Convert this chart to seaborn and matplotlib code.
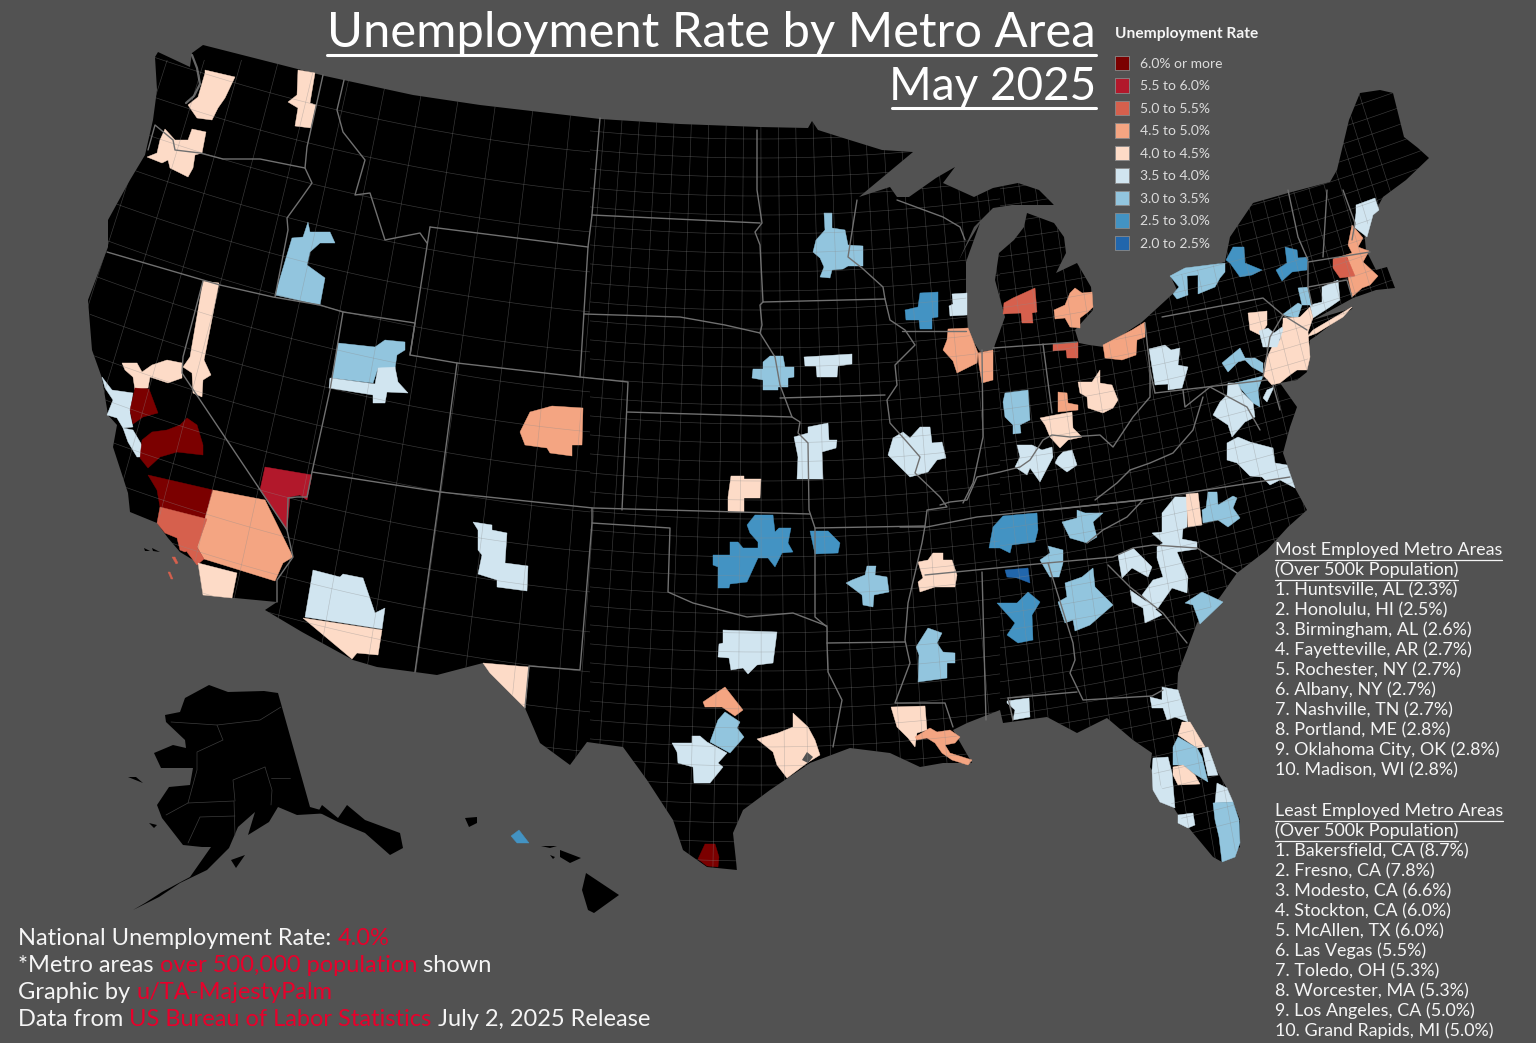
import numpy as np, pandas as pd, matplotlib
matplotlib.use("Agg")
import matplotlib.pyplot as plt
import seaborn as sns
from matplotlib.patches import Polygon

BG = "#525252"
sns.set_theme(style="white", rc={"figure.facecolor": BG, "axes.facecolor": BG})
plt.rcParams["font.family"] = ["Lato", "DejaVu Sans"]

legend_labels = ["6.0% or more","5.5 to 6.0%","5.0 to 5.5%","4.5 to 5.0%","4.0 to 4.5%","3.5 to 4.0%","3.0 to 3.5%","2.5 to 3.0%","2.0 to 2.5%"]
legend_colors = ["#7b0000","#b2182b","#d6604d","#f4a582","#fddbc7","#d1e5f0","#92c5de","#4393c3","#2166ac"]
bin_edges = [2.0,2.5,3.0,3.5,4.0,4.5,5.0,5.5,6.0,20.0]

# Map geometry, in picture coordinates
LAND = [(203,45),(325,76),(413,95),(480,105),(600,119),(680,124),(760,127),(808,128),(812,121),(818,130),(840,137),(882,150),(913,152),(859,197),(890,187),(897,197),(909,197),(936,178),(955,167),(943,183),(974,197),(993,188),(1018,183),(1039,190),(1054,205),(1012,205),(993,208),(974,227),(959,260),(968,243),(980,223),(966,262),(966,293),(968,333),(980,352),(993,350),(1005,317),(995,280),(999,253),(1014,240),(1024,227),(1027,213),(1054,223),(1064,237),(1066,253),(1056,273),(1077,263),(1091,287),(1093,310),(1075,330),(1079,343),(1089,345),(1104,347),(1142,322),(1177,290),(1171,277),(1225,262),(1230,237),(1253,203),(1288,193),(1330,182),(1337,170),(1349,120),(1360,93),(1380,90),(1393,93),(1404,137),(1418,148),(1429,158),(1406,180),(1383,197),(1376,210),(1364,230),(1366,250),(1376,270),(1387,267),(1395,288),(1376,290),(1353,298),(1313,320),(1353,308),(1316,336),(1310,340),(1308,357),(1307,372),(1297,380),(1280,383),(1297,407),(1290,427),(1283,453),(1295,488),(1307,510),(1288,527),(1267,550),(1237,573),(1220,597),(1197,623),(1187,650),(1178,673),(1177,693),(1187,720),(1203,747),(1228,790),(1240,820),(1240,847),(1222,862),(1213,857),(1193,833),(1177,813),(1163,790),(1150,767),(1152,753),(1133,740),(1107,718),(1077,733),(1047,717),(1003,723),(1000,710),(967,723),(953,730),(972,763),(943,763),(920,767),(890,753),(850,748),(810,763),(770,790),(743,810),(733,833),(737,870),(707,867),(683,850),(673,820),(647,780),(623,747),(587,742),(570,765),(540,743),(525,708),(483,663),(437,675),(415,672),(377,667),(353,660),(302,632),(265,610),(277,602),(203,595),(198,563),(180,552),(168,538),(157,523),(130,512),(128,493),(113,447),(117,425),(108,415),(102,378),(92,350),(88,300),(108,247),(108,220),(130,180),(145,155),(153,120),(157,90),(155,57),(158,52),(190,67),(192,53)]
PUGET = [(192,55),(197,68),(200,84),(194,96),(186,103)]
ALASKA = [(209,685),(228,692),(264,691),(278,693),(310,807),(331,813),(297,815),(278,807),(269,822),(248,835),(255,812),(238,827),(229,848),(207,870),(180,883),(159,897),(133,910),(145,903),(162,892),(190,877),(211,847),(202,847),(183,845),(162,818),(157,805),(169,787),(190,785),(193,768),(161,768),(154,753),(173,745),(186,748),(185,740),(166,722),(165,715),(180,712),(185,698)]
ISLANDS = [[(322,805),(338,818),(347,805),(365,820),(400,833),(403,848),(390,855),(365,833),(338,822),(318,812)],[(231,860),(245,855),(236,868)],[(128,777),(143,783),(136,777)],[(149,823),(157,825),(154,828)],[(586,873),(619,895),(594,913),(588,910),(582,890)],[(560,850),(581,858),(570,863),(560,857)],[(541,846),(557,846),(550,848)],[(465,818),(477,817),(477,823),(469,827)],[(550,855),(555,857),(553,859)],[(144,548),(150,551),(145,551)],[(152,548),(160,552),(153,551)]]
STATE_LINES = [
[(323,75),(307,147),(305,168)],[(148,150),(155,125),(173,140),(175,150),(200,153),(223,159),(260,159),(305,168),(312,183),(300,200),(287,218),(288,230),(275,297)],
[(107,252),(220,285),(273,297),(320,305),(343,312),(415,323),(410,355)],[(344,80),(337,110),(343,132),(365,160),(355,195),(370,193),(385,240),(420,233),(427,243)],
[(430,227),(588,247),(580,377)],[(430,227),(410,355),(457,363),(580,377),(628,382),(622,510)],[(600,118),(592,215),(588,247)],
[(343,312),(330,390),(312,472),(440,492),(593,508),(810,514)],[(457,363),(440,492),(415,672)],[(592,508),(592,523),(580,670),(529,666),(525,708)],
[(627,412),(792,417)],[(584,314),(680,317),(725,325),(760,333),(775,357),(780,385),(792,417),(800,422),(798,433),(808,443),(809,510),(815,528),(815,617),(827,627),(827,643),(828,672),(842,700),(833,747)],
[(592,215),(760,223)],[(757,130),(757,190),(762,223),(755,232),(760,245),(763,302),(885,299)],[(763,302),(760,305),(762,325),(760,333)],[(780,398),(885,395)],
[(885,299),(890,320),(905,330),(915,345),(895,365),(897,385),(887,400),(890,423),(907,442),(920,457),(915,473),(940,497),(947,507),(927,510),(925,526),(922,543),(908,603),(905,640),(910,663),(895,703),(945,703),(953,727)],
[(857,200),(848,257),(862,268),(883,287),(885,299)],[(902,331),(966,331)],[(897,200),(943,217),(960,227),(965,240)],
[(982,350),(983,437),(973,483),(963,503)],[(993,348),(1077,342)],[(1043,344),(1052,413)],
[(940,505),(950,502),(967,500),(977,477),(1000,472),(1020,467),(1030,460),(1043,440),(1052,435),(1070,437),(1100,435),(1113,447),(1133,417),(1150,397),(1150,370),(1145,323)],
[(1155,393),(1267,380)],[(1162,317),(1263,298),(1283,315),(1307,330)],[(1283,315),(1270,337),(1263,377)],[(1155,393),(1150,370)],
[(1183,390),(1185,407),(1210,387),(1247,407),(1260,430)],[(1130,470),(1150,463),(1173,453),(1193,430),(1203,397)],[(1130,470),(1117,483),(1095,500)],
[(1050,510),(1140,500),(1290,477)],[(815,528),(925,526)],[(900,527),(927,527),(977,517),(1143,500)],[(1087,543),(1103,530),(1127,517),(1143,500)],
[(925,575),(1047,563),(1113,557),(1133,548),(1153,545),(1197,548),(1237,573)],[(1108,565),(1130,587),(1163,613),(1187,643)],
[(1048,563),(1073,643),(1075,660),(1070,673),(1083,700),(1152,696),(1163,690)],[(1008,698),(1077,692)],[(1008,698),(1013,720)],[(982,572),(986,720)],
[(592,523),(670,528),(668,592),(693,603),(747,617),(793,613),(827,626)],[(827,643),(905,642)],
[(203,281),(183,357),(182,373),(287,530),(293,557),(277,580),(277,602)],[(312,472),(307,497),(297,497),(288,498),(287,530)],
[(1288,190),(1298,237),(1308,260)],[(1327,190),(1323,257)],[(1343,190),(1355,223),(1352,240)],[(1308,262),(1370,252)],[(1308,287),(1347,280),(1352,297)],[(1308,262),(1308,287),(1312,305)],[(1273,385),(1280,410)]]
ALASKA_LINES = [[(171,722),(217,725),(260,720),(281,707)],[(217,725),(223,740),(197,752),(197,770),(188,803),(234,801)],[(166,815),(188,803)],[(234,801),(235,835)],[(235,816),(200,817),(188,843)],[(265,767),(233,780),(235,801)],[(265,767),(272,790),(271,805)],[(290,778),(271,778)]]

metro_names = ["Seattle","Spokane","Portland","Boise","Reno","Sacramento","San Francisco","Modesto-Stockton","San Jose","Fresno","Bakersfield","Las Vegas","Riverside","Los Angeles","Orange Co.","Catalina","San Clemente","San Diego","Phoenix","Tucson","Salt Lake City","Provo-Ogden","Denver","Albuquerque","El Paso","Oklahoma City","Tulsa","Fayetteville AR","Little Rock","Memphis","Jackson","Dallas","Waco-Killeen","Austin","San Antonio","Houston","McAllen","Baton Rouge","New Orleans","Pensacola","Birmingham","Huntsville","Nashville","Chattanooga","Knoxville","Atlanta","Greenville","Charlotte-Greensboro","Columbia-Augusta","Durham","Raleigh","Charleston","Jacksonville","Deltona","Orlando","Palm Bay","Lakeland","Tampa","Port St Lucie","Miami","Cape Coral","Minneapolis","Madison","Milwaukee","Chicago","NW Indiana","Grand Rapids","Detroit","Toledo","Cleveland","Columbus","Dayton","Cincinnati","Indianapolis","Louisville","Lexington","St Louis","Kansas City","Des Moines","Omaha","Wichita","Buffalo-Rochester","Syracuse","Albany","Portland ME","Boston","Worcester","Hartford","Springfield","Poughkeepsie","New York","Long Island","Scranton","Allentown","Harrisburg","Pittsburgh","Baltimore","Washington","Wilmington","Richmond-Virginia Beach","Honolulu"]
metro_rates = [4.2,4.2,4.2,3.2,4.2,4.2,3.8,6.3,3.8,7.8,8.7,5.5,4.8,5.0,5.0,5.0,5.0,4.2,3.7,4.2,3.2,3.7,4.7,3.8,4.2,2.8,2.9,2.7,3.3,4.3,3.3,3.8,4.6,3.3,3.7,4.3,6.0,4.3,4.6,3.7,2.6,2.3,2.7,3.2,3.2,3.3,3.7,3.8,3.8,4.1,3.2,3.3,3.7,4.1,3.3,3.7,4.1,3.7,3.7,3.2,3.7,3.3,2.8,3.8,4.7,4.7,5.0,4.8,5.3,4.7,4.2,4.6,4.2,3.3,3.8,3.7,3.8,3.8,3.6,3.2,4.2,3.3,2.9,2.7,3.6,4.6,5.3,3.8,3.2,3.2,4.2,4.2,4.2,3.7,3.3,3.7,3.2,3.8,3.7,3.6,2.5]
metro_shapes = [
[(205,70),(235,77),(225,98),(218,108),(212,120),(197,118),(188,105),(198,97),(205,73)],
[(298,70),(315,73),(310,103),(316,105),(311,128),(295,126),(298,108),(288,102),(297,95)],
[(165,129),(175,140),(188,140),(192,129),(206,132),(202,153),(195,155),(193,168),(188,177),(170,168),(168,160),(162,163),(147,157),(157,153),(160,140)],
[(308,222),(310,232),(330,232),(335,243),(320,243),(310,252),(307,265),(325,278),(320,305),(275,295),(292,238),(303,237)],
[(203,281),(219,283),(206,350),(204,360),(211,375),(203,380),(202,397),(193,393),(192,373),(183,367),(190,357)],
[(122,363),(137,363),(142,372),(152,365),(167,360),(182,363),(182,378),(168,383),(150,377),(148,388),(135,390),(133,377),(125,370)],
[(102,377),(112,390),(133,393),(130,413),(133,427),(123,428),(117,418),(107,415),(113,400),(105,388)],
[(135,388),(149,389),(158,413),(143,417),(133,424),(130,410)],
[(123,428),(133,430),(143,447),(142,457),(137,457),(128,442)],
[(187,418),(197,425),(203,445),(203,455),(177,452),(160,457),(148,468),(140,458),(142,440),(152,432),(167,430),(180,425)],
[(148,475),(213,490),(207,519),(160,507),(157,490)],
[(265,467),(312,475),(307,500),(300,495),(290,497),(287,530),(260,490)],
[(213,490),(265,500),(293,557),(283,563),(275,581),(204,559),(197,547)],
[(160,507),(207,519),(197,547),(185,552),(180,550),(177,538),(165,533),(157,523)],
[(188,547),(197,547),(204,559),(197,565),(187,552)],
[(172,557),(175,557),(178,563),(176,564)],[(168,572),(170,572),(173,579),(171,579)],
[(198,563),(237,573),(232,598),(203,595)],
[(313,570),(340,577),(343,574),(363,578),(375,613),(385,608),(382,629),(305,617)],
[(303,618),(382,630),(378,655),(357,653),(352,659)],
[(338,343),(375,347),(385,340),(405,342),(405,350),(397,355),(395,368),(378,368),(373,383),(332,378)],
[(330,378),(375,384),(378,368),(395,367),(398,382),(408,393),(387,392),(385,403),(373,403),(373,395),(329,388)],
[(530,412),(552,406),(583,408),(582,445),(572,445),(572,456),(550,453),(547,448),(525,445),(520,432)],
[(473,522),(492,525),(492,530),(507,533),(505,563),(528,566),(527,591),(497,587),(497,580),(478,574),(482,555),(478,550),(478,530)],
[(483,663),(529,667),(525,708),(510,693),(490,673)],
[(713,555),(730,555),(730,542),(738,542),(743,548),(758,548),(758,558),(747,582),(730,584),(729,588),(718,588),(718,567),(713,565)],
[(755,515),(773,515),(775,532),(779,528),(791,528),(788,543),(793,552),(782,553),(775,567),(768,558),(758,558),(758,542),(750,533),(747,525)],
[(810,531),(828,531),(840,543),(838,553),(815,554)],
[(867,566),(876,566),(875,575),(887,577),(889,592),(874,595),(873,607),(863,605),(862,595),(846,583),(852,580),(865,575)],
[(933,553),(943,553),(943,560),(952,560),(957,575),(955,587),(935,587),(920,592),(918,582),(923,578),(918,562),(928,560)],
[(928,628),(942,633),(937,643),(943,652),(955,653),(955,663),(947,663),(947,678),(918,682),(919,655),(916,647)],
[(723,630),(777,632),(773,663),(757,665),(748,674),(743,668),(731,670),(729,658),(718,657),(719,644),(723,643)],
[(725,687),(743,710),(735,716),(722,707),(705,707),(703,702)],
[(725,712),(740,722),(737,728),(744,737),(730,753),(710,742),(718,720)],
[(672,743),(692,743),(692,736),(700,736),(707,742),(727,753),(718,763),(723,767),(710,783),(694,783),(693,767),(678,763),(677,752)],
[(757,739),(778,733),(793,727),(793,713),(808,727),(815,740),(820,755),(807,763),(787,778),(777,765),(773,752)],
[(705,844),(715,844),(719,857),(718,867),(707,866),(698,859)],
[(891,707),(925,706),(927,730),(917,733),(915,747),(908,738),(897,727)],
[(915,737),(930,728),(937,732),(950,730),(960,737),(955,743),(945,745),(950,753),(972,760),(968,765),(952,760),(942,753),(935,743),(927,738),(917,740)],
[(1007,701),(1029,698),(1030,717),(1013,720),(1015,710),(1007,703)],
[(1028,592),(1040,602),(1032,615),(1033,640),(1018,643),(1007,635),(1015,623),(997,603),(1017,603)],
[(1005,570),(1028,568),(1030,583),(1017,578),(1007,577)],
[(1003,516),(1037,513),(1038,530),(1035,542),(1012,545),(1010,553),(1000,548),(989,548),(993,527)],
[(1048,546),(1063,550),(1063,563),(1059,577),(1050,577),(1040,560),(1050,553)],
[(1077,510),(1085,513),(1103,513),(1093,522),(1097,537),(1087,543),(1070,538),(1062,522),(1077,518)],
[(1093,568),(1095,587),(1113,605),(1090,625),(1075,631),(1073,620),(1065,623),(1058,602),(1067,597),(1065,583),(1082,577)],
[(1133,548),(1152,567),(1148,577),(1132,568),(1122,578),(1118,555)],
[(1175,497),(1187,497),(1187,527),(1183,529),(1182,539),(1197,542),(1197,549),(1177,552),(1188,577),(1187,593),(1172,588),(1158,608),(1153,610),(1142,595),(1153,580),(1163,577),(1157,558),(1157,547),(1163,543),(1152,533),(1162,532),(1162,513)],
[(1130,590),(1147,602),(1162,615),(1145,623),(1143,608),(1132,602)],
[(1186,494),(1198,493),(1202,525),(1188,527)],
[(1208,492),(1217,492),(1218,505),(1233,496),(1237,498),(1233,508),(1240,518),(1228,527),(1218,520),(1203,523),(1202,510),(1206,508)],
[(1202,592),(1223,602),(1200,624),(1193,605),(1185,603)],
[(1162,687),(1178,690),(1188,722),(1175,717),(1167,720),(1163,708),(1152,708),(1150,697),(1162,700)],
[(1182,722),(1190,722),(1205,747),(1197,748),(1178,735)],
[(1178,737),(1197,748),(1202,757),(1208,782),(1193,773),(1183,765),(1173,765),(1173,747)],
[(1202,748),(1208,747),(1218,775),(1208,776)],
[(1173,767),(1183,765),(1195,775),(1200,784),(1178,785),(1173,775)],
[(1153,758),(1168,757),(1172,773),(1175,808),(1160,802),(1153,790),(1152,770)],
[(1217,783),(1227,788),(1233,802),(1215,803)],
[(1213,803),(1233,802),(1239,820),(1240,843),(1235,857),(1222,862),(1219,837),(1215,820)],
[(1178,815),(1193,813),(1195,825),(1188,828),(1178,823)],
[(824,213),(832,213),(832,228),(845,230),(848,245),(863,246),(863,266),(848,266),(843,269),(832,270),(830,278),(820,277),(824,267),(820,258),(813,252),(816,240),(825,230)],
[(920,293),(938,292),(938,317),(932,318),(932,329),(920,329),(919,320),(906,320),(905,310),(918,307)],
[(952,294),(967,293),(967,315),(950,316),(949,306),(953,304)],
[(948,329),(968,328),(978,353),(977,363),(957,373),(953,361),(943,350),(947,340)],
[(978,353),(993,350),(993,380),(982,383),(979,365)],
[(1013,298),(1035,288),(1037,312),(1032,313),(1033,323),(1022,323),(1021,313),(1003,314),(1004,303)],
[(1070,293),(1075,288),(1082,293),(1092,292),(1093,307),(1088,312),(1080,318),(1080,328),(1070,327),(1065,318),(1055,319),(1054,310),(1065,305)],
[(1053,344),(1078,342),(1078,358),(1067,358),(1066,350),(1053,351)],
[(1103,345),(1132,330),(1145,322),(1145,337),(1137,340),(1136,355),(1122,360),(1105,358)],
[(1078,382),(1092,382),(1100,370),(1100,383),(1112,385),(1118,400),(1113,408),(1103,413),(1088,408),(1087,397),(1080,393)],
[(1058,392),(1067,393),(1068,403),(1078,405),(1078,410),(1058,412)],
[(1040,418),(1055,415),(1072,412),(1073,428),(1082,437),(1068,440),(1060,448),(1050,437),(1045,425)],
[(1005,393),(1028,390),(1030,420),(1020,425),(1021,433),(1013,434),(1013,425),(1005,417),(1003,402)],
[(1017,445),(1032,445),(1042,450),(1052,447),(1053,457),(1040,482),(1030,468),(1027,475),(1015,467),(1020,457)],
[(1063,452),(1072,450),(1077,465),(1067,472),(1055,463),(1058,457)],
[(893,438),(903,432),(910,438),(920,427),(930,427),(932,443),(942,442),(946,458),(937,460),(928,472),(910,477),(900,467),(888,455)],
[(808,427),(828,423),(829,440),(837,440),(836,448),(822,452),(823,479),(797,479),(798,457),(794,437),(808,433)],
[(804,357),(852,354),(852,364),(838,366),(837,377),(817,377),(816,366),(805,366)],
[(770,356),(783,356),(785,367),(794,367),(794,377),(788,378),(788,387),(778,387),(778,390),(763,390),(763,380),(752,378),(753,369),(763,369),(763,362)],
[(731,476),(744,476),(744,479),(761,479),(760,498),(744,498),(744,512),(728,512),(728,497)],
[(1170,276),(1185,268),(1225,263),(1225,272),(1220,278),(1215,287),(1198,294),(1198,275),(1187,276),(1188,295),(1177,299),(1173,294),(1179,287)],
[(1233,247),(1244,247),(1245,263),(1262,270),(1252,275),(1240,277),(1230,263),(1226,260)],
[(1285,247),(1297,250),(1298,258),(1308,257),(1307,270),(1292,272),(1282,281),(1276,270),(1287,263)],
[(1356,205),(1375,198),(1379,210),(1373,215),(1367,237),(1354,227),(1356,213)],
[(1352,225),(1363,238),(1358,247),(1369,251),(1363,262),(1378,276),(1370,285),(1362,288),(1352,297),(1348,277),(1348,258),(1333,259),(1352,253),(1348,245)],
[(1333,259),(1347,257),(1355,276),(1340,278),(1333,268)],
[(1322,287),(1338,280),(1340,300),(1330,307),(1313,318),(1310,305),(1322,302)],
[(1298,288),(1308,287),(1311,305),(1302,305)],
[(1282,315),(1298,303),(1302,305),(1298,317),(1292,317)],
[(1283,318),(1300,317),(1310,307),(1313,318),(1308,332),(1310,357),(1307,370),(1297,370),(1290,375),(1280,383),(1272,385),(1263,375),(1265,362),(1272,347),(1280,340),(1283,323)],
[(1313,330),(1352,307),(1343,317),(1317,333),(1307,337)],
[(1248,313),(1267,311),(1267,325),(1260,335),(1250,330)],
[(1259,331),(1268,328),(1274,333),(1282,327),(1283,330),(1277,347),(1263,347)],
[(1222,363),(1240,348),(1245,358),(1255,358),(1263,363),(1263,373),(1252,367),(1245,360),(1238,362),(1228,372)],
[(1149,349),(1165,345),(1171,350),(1180,348),(1178,365),(1188,367),(1182,388),(1168,390),(1168,384),(1155,385)],
[(1235,383),(1263,376),(1258,390),(1260,407),(1253,403),(1242,390)],
[(1228,383),(1237,383),(1242,392),(1253,403),(1255,417),(1245,422),(1232,437),(1228,425),(1213,415),(1220,402),(1227,395)],
[(1267,390),(1274,387),(1267,402),(1263,398)],
[(1227,443),(1238,437),(1250,442),(1273,448),(1275,463),(1287,465),(1295,488),(1280,480),(1270,485),(1262,477),(1250,476),(1237,463),(1227,460)],
[(519,830),(529,843),(517,843),(511,836)]]

best_title = "Most Employed Metro Areas"
best_list = ["1. Huntsville, AL (2.3%)","2. Honolulu, HI (2.5%)","3. Birmingham, AL (2.6%)","4. Fayetteville, AR (2.7%)","5. Rochester, NY (2.7%)","6. Albany, NY (2.7%)","7. Nashville, TN (2.7%)","8. Portland, ME (2.8%)","9. Oklahoma City, OK (2.8%)","10. Madison, WI (2.8%)"]
worst_title = "Least Employed Metro Areas"
worst_list = ["1. Bakersfield, CA (8.7%)","2. Fresno, CA (7.8%)","3. Modesto, CA (6.6%)","4. Stockton, CA (6.0%)","5. McAllen, TX (6.0%)","6. Las Vegas (5.5%)","7. Toledo, OH (5.3%)","8. Worcester, MA (5.3%)","9. Los Angeles, CA (5.0%)","10. Grand Rapids, MI (5.0%)"]
sub_title = "(Over 500k Population)"
notes = [[("National Unemployment Rate: ",0),("4.0%",1)],
         [("*Metro areas ",0),("over 500,000 population",1),(" shown",0)],
         [("Graphic by ",0),("u/TA-MajestyPalm",1)],
         [("Data from ",0),("US Bureau of Labor Statistics",1),(" July 2, 2025 Release",0)]]

fig = plt.figure(figsize=(15.36, 10.43), dpi=100, facecolor=BG)
ax = fig.add_axes([0, 0, 1, 1])
ax.set_xlim(0, 1536); ax.set_ylim(1043, 0); ax.axis("off")

land = Polygon(LAND, closed=True, fc="black", ec="none", zorder=1); ax.add_patch(land)
for poly in [ALASKA] + ISLANDS:
    ax.add_patch(Polygon(poly, closed=True, fc="black", ec="none", zorder=1))

# metro areas coloured by binned rate
metros = pd.DataFrame({"name": metro_names, "rate": metro_rates})
metros["bin"] = pd.cut(metros["rate"], bin_edges, right=False, labels=legend_labels[::-1])
palette = dict(zip(legend_labels, sns.color_palette(legend_colors)))
for shape, b in zip(metro_shapes, metros["bin"]):
    c = palette[b]
    ax.add_patch(Polygon(shape, closed=True, fc=c, ec=c, lw=0.3, zorder=2))
a = np.array(PUGET); ax.plot(a[:, 0], a[:, 1], color="#666666", lw=1.6, zorder=2.5)
ax.add_patch(Polygon([(807,752),(813,757),(808,763),(802,760)], closed=True, fc=BG, ec="none", zorder=2.5))

# county mesh: thin decorative lines following the map's projection, clipped to land
ys = np.linspace(60, 880, 30)
def meridian(x0):
    return x0 + (x0 - 760) * 0.00048 * (ys - 300), ys
def parallel(y0, x1, x2):
    xs = np.linspace(x1, x2, 30)
    return xs, y0 - 0.00028 * (xs - 760) ** 2
mesh = dict(color="#8c8c8c", lw=0.45, alpha=0.42, zorder=3, solid_capstyle="butt")
for x1, x2, dx, dy in [(90, 590, 42, 40), (590, 1000, 19, 19), (1000, 1440, 17, 17)]:
    for x0 in np.arange(x1, x2, dx):
        lx, ly = meridian(x0)
        l, = ax.plot(lx, ly, **mesh); l.set_clip_path(land)
    for y0 in np.arange(120, 900, dy):
        lx, ly = parallel(y0, x1, x2)
        l, = ax.plot(lx, ly, **mesh); l.set_clip_path(land)

for seg in STATE_LINES:
    a = np.array(seg); ax.plot(a[:, 0], a[:, 1], color="#707070", lw=1.0, zorder=4, solid_joinstyle="round")
for seg in ALASKA_LINES:
    a = np.array(seg); ax.plot(a[:, 0], a[:, 1], color="#3c3c3c", lw=0.5, zorder=4)

# title
TXT = "#f5f5f5"
ax.text(1096, 47, "Unemployment Rate by Metro Area", ha="right", va="baseline", fontsize=35.3, color="white")
ax.text(1096, 100, "May 2025", ha="right", va="baseline", fontsize=33, color="white")
ax.plot([327, 1096], [54.5, 54.5], color="white", lw=2.2, zorder=6)
ax.plot([892, 1096], [107.5, 107.5], color="white", lw=2.2, zorder=6)

# legend via seaborn
ax.text(1115, 34, "Unemployment Rate", ha="left", va="center", fontsize=11.2, color=TXT, fontweight="bold")
lax = fig.add_axes([1113.5 / 1536, 1 - 254.2 / 1043, 17 / 1536, 202.5 / 1043], facecolor="none")
ldf = pd.DataFrame({"x": [0] * 9, "label": legend_labels})
sns.scatterplot(data=ldf, x="x", y="label", hue="label", palette=palette, marker="s", s=115,
                edgecolor="#8a8a8a", linewidth=0.6, legend=False, ax=lax)
lax.set_xlim(-1, 1); lax.set_ylim(8.5, -0.5)
lax.set_xlabel(""); lax.set_ylabel(""); lax.set_xticks([])
lax.yaxis.tick_right()
lax.tick_params(axis="y", length=0, pad=7, labelsize=10, labelcolor="#dcdcdc")
for s in lax.spines.values():
    s.set_visible(False)

# ranked lists
fig.canvas.draw()
r = fig.canvas.get_renderer()
def width_px(t):
    return t.get_window_extent(r).width
LIST_SIZE = 12.9
for title, rows, y0 in [(best_title, best_list, 550), (worst_title, worst_list, 811)]:
    t1 = ax.text(1275, y0, title, fontsize=LIST_SIZE, color=TXT, va="center", ha="left")
    t2 = ax.text(1275, y0 + 20, sub_title, fontsize=LIST_SIZE, color=TXT, va="center", ha="left")
    for i, row in enumerate(rows):
        ax.text(1275, y0 + 40 + 20 * i, row, fontsize=LIST_SIZE, color=TXT, va="center", ha="left")
    ax.plot([1275, 1275 + width_px(t1)], [y0 + 9.5, y0 + 9.5], color=TXT, lw=0.9)
    ax.plot([1275, 1275 + width_px(t2)], [y0 + 29.5, y0 + 29.5], color=TXT, lw=0.9)

# footer notes, mixed colours
for line, y in zip(notes, [945, 972, 999, 1026]):
    x = 18
    for s, red in line:
        t = ax.text(x, y, s.replace(" ", "\u00a0"), fontsize=17, color="#e8002b" if red else TXT, va="baseline", ha="left")
        x += width_px(t)

fig.savefig("out.png", dpi=100, facecolor=BG)
